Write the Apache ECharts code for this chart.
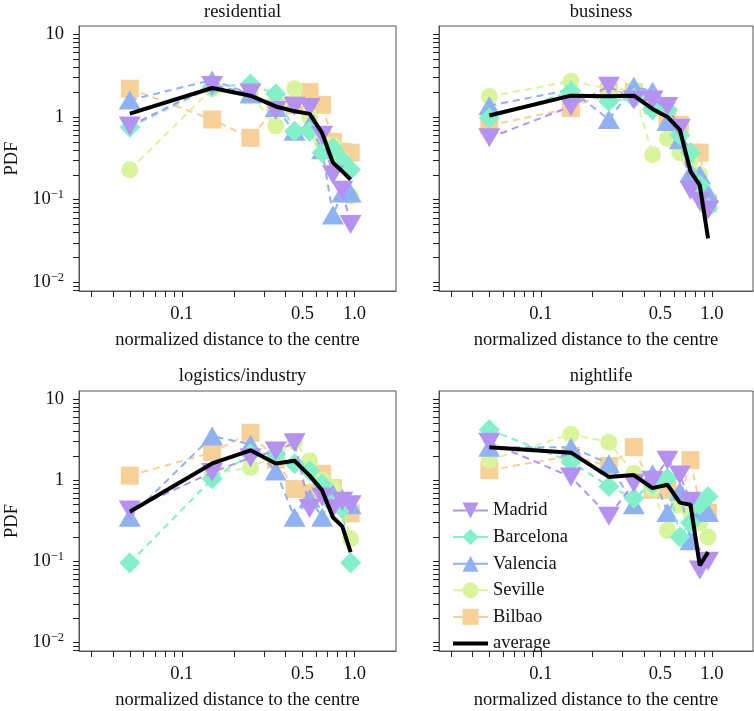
<!DOCTYPE html>
<html><head><meta charset="utf-8">
<script src="https://cdn.jsdelivr.net/npm/echarts@6/dist/echarts.min.js"></script>
<style>html,body{margin:0;padding:0;background:#fff}#c{width:754px;height:711px}</style>
</head><body><div id="c"></div><script>
// ---- data ----
const distanceBins = [0.05, 0.15, 0.25, 0.35, 0.45, 0.55, 0.65, 0.75, 0.85, 0.95];
const cities = ['Madrid', 'Barcelona', 'Valencia', 'Seville', 'Bilbao'];
const panelTitles = ['residential', 'business', 'logistics/industry', 'nightlife'];
const xTickValues = [0.03,0.04,0.05,0.06,0.07,0.08,0.09,0.1,0.2,0.3,0.4,0.5,0.6,0.7,0.8,0.9,1.0];
const xLabelValues = [0.1, 0.5, 1.0];
const yTickValues = [0.008,0.009,0.01,0.02,0.03,0.04,0.05,0.06,0.07,0.08,0.09,0.1,0.2,0.3,0.4,0.5,0.6,0.7,0.8,0.9,1,2,3,4,5,6,7,8,9,10];
const yLabelValues = [0.01, 0.1, 1, 10];

const residentialMadrid    = [0.78, 2.4, 1.95, 1.2, 1.35, 1.3, 0.6, 0.2, 0.13, 0.05];
const residentialBarcelona = [0.75, 2.3, 2.5, 1.9, 0.67, 0.67, 0.37, 0.42, 0.3, 0.23];
const residentialValencia  = [1.6, 2.8, 1.9, 1.3, 0.67, 0.8, 0.4, 0.065, 0.12, 0.12];
const residentialSeville   = [0.23, 2.2, 1.9, 0.78, 2.2, 1.0, 0.5, 0.45, 0.3, 0.11];
const residentialBilbao    = [2.2, 0.93, 0.56, 1.3, 1.4, 2.0, 1.4, 0.5, 0.38, 0.37];
const residentialAverage   = [1.1, 2.24, 1.81, 1.34, 1.17, 1.09, 0.64, 0.28, 0.22, 0.175];

const businessMadrid    = [0.56, 1.34, 2.35, 1.6, 1.6, 1.34, 0.73, 0.13, 0.095, 0.075];
const businessBarcelona = [0.97, 2.04, 1.55, 1.7, 1.22, 1.22, 0.6, 0.37, 0.15, 0.08];
const businessValencia  = [1.37, 2.14, 0.93, 2.35, 2.04, 0.88, 0.53, 0.21, 0.2, 0.12];
const businessSeville   = [1.77, 2.7, 2.2, 2.1, 0.35, 0.55, 0.37, 0.3, 0.2, 0.1];
const businessBilbao    = [0.79, 1.28, 2.0, 2.0, 1.4, 1.0, 0.8, 0.37, 0.37, 0.09];
const businessAverage   = [1.04, 1.81, 1.78, 1.81, 1.25, 1.0, 0.70, 0.22, 0.15, 0.034];

const logisticsMadrid    = [0.43, 1.25, 1.9, 2.3, 2.9, 0.45, 0.62, 0.45, 0.55, 0.5];
const logisticsBarcelona = [0.096, 1.04, 2.1, 2.1, 1.6, 1.31, 0.9, 0.51, 0.45, 0.096];
const logisticsValencia  = [0.35, 3.5, 2.77, 1.3, 0.35, 0.6, 0.35, 0.68, 0.6, 0.5];
const logisticsSeville   = [null, 1.2, 1.44, 2.0, 3.0, 1.74, 1.0, 0.8, 0.5, 0.19];
const logisticsBilbao    = [1.14, 2.2, 3.85, 1.8, 0.78, 0.7, 1.2, 0.8, 0.5, 0.39];
const logisticsAverage   = [0.41, 1.61, 2.34, 1.61, 1.74, 1.14, 0.75, 0.35, 0.27, 0.13];

const nightlifeMadrid    = [2.95, 1.1, 0.36, 0.92, 1.0, 1.77, 1.16, 0.55, 0.078, 0.1];
const nightlifeBarcelona = [4.2, 1.69, 0.84, 0.6, 0.9, 1.05, 0.2, 0.3, 0.5, 0.63];
const nightlifeValencia  = [2.56, 2.56, 1.6, 0.5, 1.2, 0.4, 0.73, 0.18, 0.4, 0.4];
const nightlifeSeville   = [1.77, 3.7, 2.95, 1.22, 0.8, 0.24, 0.5, 0.4, 0.3, 0.2];
const nightlifeBilbao    = [1.33, 2.0, 1.5, 2.56, 0.76, 0.76, 0.55, 1.77, 0.5, 0.4];
const nightlifeAverage   = [2.56, 2.19, 1.1, 1.16, 0.80, 0.88, 0.53, 0.50, 0.089, 0.13];

const panels = [
  {Madrid: residentialMadrid, Barcelona: residentialBarcelona, Valencia: residentialValencia, Seville: residentialSeville, Bilbao: residentialBilbao, average: residentialAverage},
  {Madrid: businessMadrid, Barcelona: businessBarcelona, Valencia: businessValencia, Seville: businessSeville, Bilbao: businessBilbao, average: businessAverage},
  {Madrid: logisticsMadrid, Barcelona: logisticsBarcelona, Valencia: logisticsValencia, Seville: logisticsSeville, Bilbao: logisticsBilbao, average: logisticsAverage},
  {Madrid: nightlifeMadrid, Barcelona: nightlifeBarcelona, Valencia: nightlifeValencia, Seville: nightlifeSeville, Bilbao: nightlifeBilbao, average: nightlifeAverage}
];

// ---- style ----
const FONT = 'Liberation Serif';
const FS = 18.5;
const cityStyle = {
  Madrid:    {color: '#B592F2', symbol: 'path://M0,0L20,0L10,17.3Z', size: [22, 19]},
  Barcelona: {color: '#82F0C9', symbol: 'diamond', size: [21, 21]},
  Valencia:  {color: '#8FB2F5', symbol: 'triangle', size: [22, 19]},
  Seville:   {color: '#D9F59B', symbol: 'circle', size: 17},
  Bilbao:    {color: '#F8D199', symbol: 'rect', size: 18}
};
const gridPos = [
  {left: 79, top: 26, width: 317, height: 265},
  {left: 439, top: 26, width: 314, height: 265},
  {left: 79, top: 391, width: 317, height: 265},
  {left: 439, top: 391, width: 314, height: 265}
];
const X_MIN = 0.0254, X_MAX = 1.74, Y_MIN = 0.00785, Y_MAX = 12.6;

function yFmt(v) {
  if (Math.abs(v - 10) < 1e-6) return '10';
  if (Math.abs(v - 1) < 1e-6) return '1';
  if (Math.abs(v - 0.1) < 1e-6) return '{n|10}{e|\u22121}';
  if (Math.abs(v - 0.01) < 1e-6) return '{n|10}{e|\u22122}';
  return '';
}
function xFmt(v) {
  if (Math.abs(v - 1) < 1e-6) return '1.0';
  return String(v);
}

const grid = [], xAxis = [], yAxis = [], series = [], title = [];
gridPos.forEach((g, i) => {
  grid.push(Object.assign({show: true, borderColor: '#555', borderWidth: 1, backgroundColor: 'transparent'}, g));
  title.push({text: panelTitles[i], left: g.left + g.width / 2, top: i < 2 ? -2 : 362, textAlign: 'center',
    textStyle: {fontFamily: FONT, fontSize: FS, fontWeight: 'normal', color: '#111'}});
  xAxis.push({
    type: 'log', logBase: 10, gridIndex: i, min: X_MIN, max: X_MAX,
    axisLine: {show: true, lineStyle: {color: '#555', width: 1}},
    axisTick: {show: true, customValues: xTickValues, length: 6, lineStyle: {color: '#222'}},
    axisLabel: {customValues: xLabelValues, formatter: xFmt, fontFamily: FONT, fontSize: FS, color: '#111', margin: 14},
    splitLine: {show: false}, minorTick: {show: false},
    name: 'normalized distance to the centre', nameLocation: 'middle', nameGap: 40,
    nameTextStyle: {fontFamily: FONT, fontSize: FS, color: '#111'}
  });
  yAxis.push({
    type: 'log', logBase: 10, gridIndex: i, min: Y_MIN, max: Y_MAX,
    axisLine: {show: true, lineStyle: {color: '#555', width: 1}},
    axisTick: {show: true, customValues: yTickValues, length: 6, lineStyle: {color: '#222'}},
    axisLabel: {show: i % 2 === 0, customValues: yLabelValues, formatter: yFmt, fontFamily: FONT, fontSize: FS, color: '#111', margin: 15,
      rich: {n: {fontFamily: FONT, fontSize: FS, color: '#111'}, e: {fontFamily: FONT, fontSize: 12.5, color: '#111', padding: [0, 0, 10, 0]}}},
    splitLine: {show: false},
    name: i % 2 === 0 ? 'PDF' : '', nameLocation: 'middle', nameGap: 57, nameRotate: 90,
    nameTextStyle: {fontFamily: FONT, fontSize: FS, color: '#111'}
  });
  const drawOrder = ['Bilbao', 'Seville', 'Valencia', 'Barcelona', 'Madrid'];
  drawOrder.forEach((c, k) => {
    const st = cityStyle[c];
    series.push({
      type: 'line', name: c, xAxisIndex: i, yAxisIndex: i,
      data: distanceBins.map((x, j) => [x, panels[i][c][j]]),
      symbol: st.symbol, symbolSize: st.size, showSymbol: true, connectNulls: false,
      lineStyle: {color: st.color, width: 2, type: [7, 5]},
      itemStyle: {color: st.color, opacity: 1},
      z: 2 + k, animation: false, silent: true
    });
  });
  series.push({
    type: 'line', name: 'average', xAxisIndex: i, yAxisIndex: i,
    data: distanceBins.map((x, j) => [x, panels[i].average[j]]),
    symbol: 'none', lineStyle: {color: '#000', width: 4}, itemStyle: {color: '#000'},
    z: 10, animation: false, silent: true
  });
});

const legendData = cities.map(c => ({name: c}));
legendData.push({name: 'average', itemStyle: {color: 'rgba(0,0,0,0)', borderWidth: 0, opacity: 0}, lineStyle: {width: 4, color: '#000', type: 'solid'}});

const chart = echarts.init(document.getElementById('c'), null, {renderer: 'canvas'});
chart.setOption({
  backgroundColor: '#fff',
  animation: false,
  title: title,
  grid: grid, xAxis: xAxis, yAxis: yAxis, series: series,
  legend: {
    left: 446, top: 496, orient: 'vertical', itemWidth: 35, itemHeight: 20, itemGap: 7.6,
    data: legendData,
    textStyle: {fontFamily: FONT, fontSize: FS, color: '#111'},
    lineStyle: {type: 'solid', width: 2},
    selectedMode: false
  }
});
</script></body></html>
